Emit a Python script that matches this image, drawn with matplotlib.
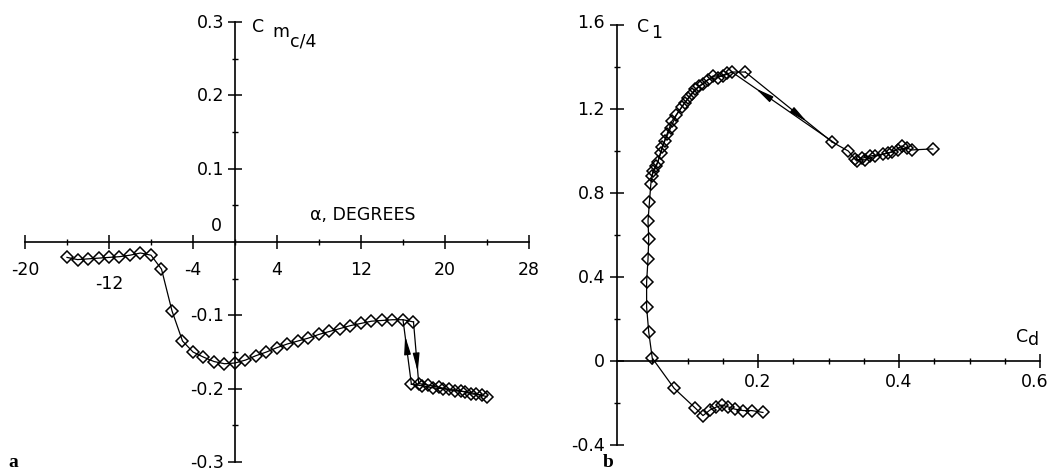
import matplotlib
matplotlib.use('Agg')
import matplotlib.pyplot as plt
from matplotlib.patches import ArrowStyle

W, H = 1051, 477

# ---------------- Panel a : Cm_c/4 vs alpha ----------------
alpha_up = [-16, -15, -14, -13, -12, -11, -10, -9, -8, -7, -6, -5, -4, -3, -2, -1,
            0, 1, 2, 3, 4, 5, 6, 7, 8, 9, 10, 11, 12, 13, 14, 15, 16, 17]
cm_up = [-0.021, -0.024, -0.023, -0.022, -0.021, -0.020, -0.018, -0.015, -0.018,
         -0.037, -0.094, -0.135, -0.150, -0.157, -0.163, -0.166, -0.165, -0.161,
         -0.155, -0.150, -0.144, -0.139, -0.135, -0.131, -0.126, -0.122, -0.118,
         -0.114, -0.111, -0.108, -0.107, -0.106, -0.106, -0.109]
alpha_low = [16.8, 17.8, 18.9, 19.8, 21.0, 21.9, 23.0, 24.0]
cm_low = [-0.194, -0.196, -0.199, -0.200, -0.203, -0.204, -0.207, -0.211]
alpha_low2 = [17.5, 18.4, 19.4, 20.4, 21.5, 22.5, 23.5]
cm_low2 = [-0.193, -0.195, -0.198, -0.201, -0.203, -0.207, -0.209]
alpha_stall = [17.0, 17.5]
cm_stall = [-0.109, -0.193]
alpha_reattach = [16.8, 16.0]
cm_reattach = [-0.194, -0.106]

a_xticks = [-20, -12, -4, 4, 12, 20, 28]
a_xticklabels = ['-20', '-12', '-4', '4', '12', '20', '28']
a_xminor = [-16, -8, 0, 8, 16, 24]
a_yticks = [0.3, 0.2, 0.1, -0.1, -0.2, -0.3]
a_yticklabels = ['0.3', '0.2', '0.1', '-0.1', '-0.2', '-0.3']
a_yminor = [0.25, 0.15, 0.05, -0.05, -0.15, -0.25]

# ---------------- Panel b : Cl vs Cd ----------------
cd_main = [0.207, 0.191, 0.179, 0.167, 0.158, 0.149, 0.141, 0.132, 0.122, 0.111,
           0.081, 0.050, 0.045, 0.042, 0.042, 0.044, 0.045, 0.044, 0.046, 0.048,
           0.051, 0.058, 0.064, 0.071, 0.078, 0.092, 0.101, 0.111, 0.122, 0.136,
           0.150, 0.163, 0.182]
cl_main = [-0.245, -0.236, -0.236, -0.229, -0.219, -0.210, -0.219, -0.233, -0.260,
           -0.224, -0.130, 0.014, 0.138, 0.257, 0.376, 0.486, 0.581, 0.667, 0.757,
           0.843, 0.905, 0.948, 1.019, 1.081, 1.143, 1.210, 1.252, 1.295, 1.319,
           1.357, 1.357, 1.376, 1.376]
cd_dup = [0.049, 0.056, 0.062, 0.068, 0.076, 0.084, 0.096, 0.106, 0.117, 0.129, 0.143, 0.156]
cl_dup = [0.88, 0.93, 0.99, 1.05, 1.11, 1.17, 1.23, 1.27, 1.31, 1.34, 1.35, 1.37]
cd_post = [0.305, 0.328, 0.340, 0.347, 0.359, 0.377, 0.390, 0.404, 0.418, 0.448]
cl_post = [1.043, 1.000, 0.952, 0.965, 0.976, 0.985, 0.995, 1.024, 1.005, 1.010]
cd_post2 = [0.338, 0.352, 0.366, 0.384, 0.398, 0.412]
cl_post2 = [0.960, 0.958, 0.975, 0.990, 1.005, 1.015]
cd_stall = [0.182, 0.305]
cl_stall = [1.376, 1.043]
cd_reattach = [0.310, 0.163]
cl_reattach = [1.035, 1.376]

b_xticks = [0.2, 0.4, 0.6]
b_xticklabels = ['0.2', '0.4', '0.6']
b_xminor = [0.05, 0.1, 0.15, 0.25, 0.3, 0.35, 0.45, 0.5, 0.55]
b_yticks = [1.6, 1.2, 0.8, 0.4, 0.0, -0.4]
b_yticklabels = ['1.6', '1.2', '0.8', '0.4', '0', '-0.4']
b_yminor = [1.4, 1.0, 0.6, 0.2, -0.2]

FONT = 'DejaVu Sans'
FS = 12.5
plt.rcParams['font.family'] = FONT

fig = plt.figure(figsize=(W / 100, H / 100), dpi=100)
fig.patch.set_facecolor('white')


def px(x, y):
    return x / W, 1 - y / H


def style_axes(ax):
    for s in ['top', 'right']:
        ax.spines[s].set_visible(False)
    ax.spines['left'].set_position(('data', 0))
    ax.spines['bottom'].set_position(('data', 0))
    for s in ['left', 'bottom']:
        ax.spines[s].set_linewidth(1.2)
        ax.spines[s].set_clip_on(False)
    ax.tick_params(which='major', direction='inout', length=10, width=1.1,
                   labelbottom=False, labelleft=False)
    ax.tick_params(which='minor', direction='inout', length=5, width=1.0)
    ax.patch.set_visible(False)


mk = dict(marker='D', ms=6.5, mfc='none', mec='black', mew=1.1, color='black',
          lw=0.9, clip_on=False)
ln = dict(color='black', lw=0.9, clip_on=False)


def arrow_on(ax, xs, ys, frac, length=0.18):
    x0, x1 = xs
    y0, y1 = ys
    tip = (x0 + frac * (x1 - x0), y0 + frac * (y1 - y0))
    tail = (x0 + (frac - length) * (x1 - x0), y0 + (frac - length) * (y1 - y0))
    ax.annotate('', xy=tip, xytext=tail,
                arrowprops=dict(arrowstyle=ArrowStyle('-|>', head_length=1.1, head_width=0.2),
                                color='black', lw=0.9, shrinkA=0, shrinkB=0,
                                mutation_scale=10))

# ---------- Panel a ----------
axA = fig.add_axes([25 / W, 14 / H, 504 / W, 440 / H])
axA.set_xlim(-20, 28)
axA.set_ylim(-0.3, 0.3)
style_axes(axA)
axA.set_xticks(a_xticks)
axA.set_xticks(a_xminor, minor=True)
axA.set_yticks(a_yticks)
axA.set_yticks(a_yminor, minor=True)

axA.plot(alpha_up, cm_up, **mk)
axA.plot(alpha_low, cm_low, **mk)
axA.plot(alpha_low2, cm_low2, **mk)
axA.plot(alpha_stall, cm_stall, **ln)
axA.plot(alpha_reattach, cm_reattach, **ln)
arrow_on(axA, alpha_reattach, cm_reattach, 0.75, 0.2)
arrow_on(axA, alpha_stall, cm_stall, 0.81, 0.2)

for v, lab in zip(a_xticks, a_xticklabels):
    dy = -41 if lab == '-12' else -27
    axA.annotate(lab, xy=(v, 0), xytext=(0, dy), textcoords='offset pixels',
                 ha='center', va='center', fontsize=FS, annotation_clip=False)
for v, lab in zip(a_yticks, a_yticklabels):
    axA.annotate(lab, xy=(0, v), xytext=(-11, 0), textcoords='offset pixels',
                 ha='right', va='center', fontsize=FS, annotation_clip=False)
axA.annotate('0', xy=(0, 0), xytext=(-13, 8), textcoords='offset pixels',
             ha='right', va='bottom', fontsize=FS, annotation_clip=False)

fig.text(*px(310, 220), 'α, DEGREES', fontsize=FS, ha='left', va='baseline')
fig.text(*px(252, 32), 'C', fontsize=FS, ha='left', va='baseline')
fig.text(*px(272, 37), 'm', fontsize=FS, ha='left', va='baseline')
fig.text(*px(290, 47), 'c/4', fontsize=FS, ha='left', va='baseline')
fig.text(*px(8, 467), 'a', fontsize=14, fontweight='bold', family='Liberation Serif',
         ha='left', va='baseline')

# ---------- Panel b ----------
axB = fig.add_axes([617 / W, 31 / H, 423 / W, 420 / H])
axB.set_xlim(0, 0.6)
axB.set_ylim(-0.4, 1.6)
style_axes(axB)
axB.set_xticks(b_xticks)
axB.set_xticks(b_xminor, minor=True)
axB.set_yticks(b_yticks)
axB.set_yticks(b_yminor, minor=True)

axB.plot(cd_main, cl_main, **mk)
axB.plot(cd_dup, cl_dup, **mk)
axB.plot(cd_post, cl_post, **mk)
axB.plot(cd_post2, cl_post2, **mk)
axB.plot(cd_stall, cl_stall, **ln)
axB.plot(cd_reattach, cl_reattach, **ln)
arrow_on(axB, cd_reattach, cl_reattach, 0.77, 0.13)
arrow_on(axB, cd_stall, cl_stall, 0.71, 0.13)

for v, lab in zip(b_xticks, b_xticklabels):
    dx = -5 if lab == '0.6' else 0
    axB.annotate(lab, xy=(v, 0), xytext=(dx, -20), textcoords='offset pixels',
                 ha='center', va='center', fontsize=FS, annotation_clip=False)
for v, lab in zip(b_yticks, b_yticklabels):
    dy = 3 if lab == '1.6' else 0
    axB.annotate(lab, xy=(0, v), xytext=(-12, dy), textcoords='offset pixels',
                 ha='right', va='center', fontsize=FS, annotation_clip=False)

fig.text(*px(637, 32), 'C', fontsize=FS, ha='left', va='baseline')
fig.text(*px(651, 38), '1', fontsize=FS, ha='left', va='baseline')
fig.text(*px(1016, 342), 'C', fontsize=FS, ha='left', va='baseline')
fig.text(*px(1028, 345), 'd', fontsize=FS, ha='left', va='baseline')
fig.text(*px(603, 467), 'b', fontsize=14, fontweight='bold', family='Liberation Serif',
         ha='left', va='baseline')

fig.savefig('out.png', dpi=100, facecolor='white')
